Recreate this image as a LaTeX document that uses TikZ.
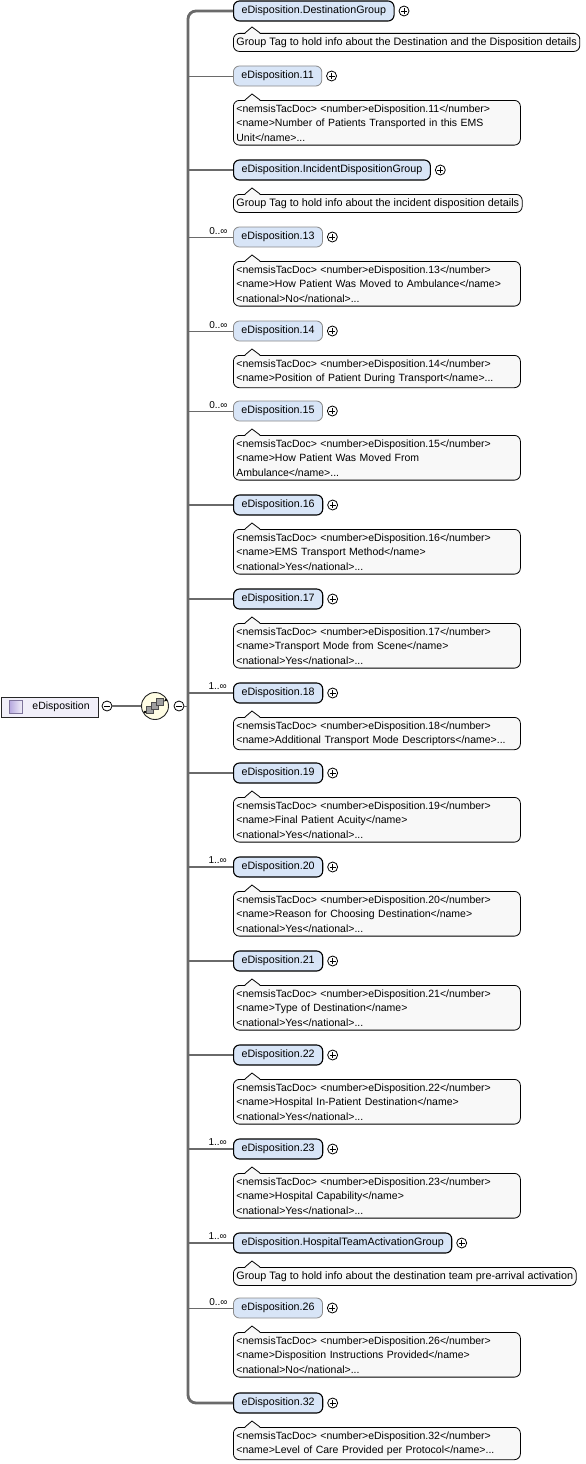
\documentclass[tikz,border=0pt]{standalone}
\usepackage{fontspec}
\setmainfont{Liberation Sans}
\usetikzlibrary{positioning}
\definecolor{elemfill}{HTML}{D8E5F7}
\definecolor{annofill}{HTML}{F8F8F8}
\definecolor{rootfill}{HTML}{F1EFF9}
\definecolor{seqfill}{HTML}{FFFDE4}
\definecolor{linkgray}{HTML}{6A6A6A}
\definecolor{optborder}{HTML}{8A8A8A}
\definecolor{iconlilac}{HTML}{B4A6DE}
\tikzset{
  docpointer/.pic={
    \fill[annofill] (12,0.9) -- (19,-6) -- (27,0.9) -- cycle;
    \draw[black, line width=0.8pt] (12,0) -- (19,-6) -- (27,0);
  }
}

\begin{document}
\begin{tikzpicture}[x=1pt, y=-1pt, font=\fontsize{10.5}{14.5}\selectfont,
    elem/.style={draw, rounded corners=6pt, fill=elemfill, anchor=west, minimum height=20pt, inner xsep=8pt, inner ysep=0pt, font=\fontsize{10.7}{14}\selectfont},
    reqelem/.style={elem, draw=black, line width=1.1pt},
    optelem/.style={elem, draw=optborder, line width=0.8pt},
    doc/.style={draw=black, line width=0.8pt, rounded corners=6pt, fill=annofill, anchor=north west, align=left, inner xsep=3pt, inner ysep=4pt},
    groupdoc/.style={doc, font=\fontsize{10.8}{14.5}\selectfont},
    tacdoc/.style={doc, text width=281pt},
    reqlink/.style={draw=linkgray, line width=2.5pt},
    optlink/.style={draw=linkgray, line width=0.9pt},
    mult/.style={font=\fontsize{10}{12}\selectfont, anchor=south east, inner sep=1pt, xshift=-4pt, yshift=1pt},
    plusmark/.style={circle, draw, line width=0.8pt, minimum size=10pt, inner sep=0pt,
      path picture={\draw[line width=0.8pt] ([xshift=-3pt]path picture bounding box.center) -- ([xshift=3pt]path picture bounding box.center)
        ([yshift=-3pt]path picture bounding box.center) -- ([yshift=3pt]path picture bounding box.center);}},
    minusmark/.style={circle, draw, line width=0.8pt, minimum size=10pt, inner sep=0pt,
      path picture={\draw[line width=0.8pt] ([xshift=-3pt]path picture bounding box.center) -- ([xshift=3pt]path picture bounding box.center);}},
    rootbox/.style={draw=black!85, line width=0.9pt, fill=rootfill, anchor=west, minimum height=20pt, minimum width=97pt, inner xsep=9pt, inner ysep=0pt},
    seqbox/.style={circle, draw=black!85, line width=0.9pt, fill=seqfill, minimum size=27pt, inner sep=0pt}]
  \useasboundingbox (0,0) rectangle (586,1464);

  % Root element and sequence compositor
  \node[rootbox] (root) at (1,707) {\hspace*{22pt}eDisposition};
  \node[draw=iconlilac!70!black, line width=0.6pt, minimum size=13pt, inner sep=0pt,
        left color=iconlilac, right color=iconlilac!20!white] (root-icon) at (15.5,706.5) {};
  \node[minusmark] (root-m) at (107,706) {};
  \node[seqbox] (seq) at (155,706) {};
  \node[minusmark] (seq-m) at (179,706) {};
  \begin{scope}[shift={(seq.center)}]
    \draw[black!80, line width=0.8pt] (-10,6) -- (11,-6);
    \fill[black] (-10,6) circle (1.3pt) (11,-6) circle (1.3pt);
    \foreach \dx/\dy in {-5/4, 0/0, 5/-4}
      \draw[fill=gray!75, draw=black!70, line width=0.5pt] (\dx-3.5,\dy-3.5) rectangle (\dx+3.5,\dy+3.5);
  \end{scope}
  \draw[reqlink, line width=2pt] (root-m) -- (seq);
  \coordinate (b-seq) at (188,706);
  \draw[optlink] (seq-m) -- (b-seq);

  % Children: element, expand mark, documentation
  \node[reqelem] (dest) at (233,11) {eDisposition.DestinationGroup};
  \node[plusmark, right=4pt of dest] (dest-x) {};
  \node[groupdoc] (dest-doc) at (233,33) {Group Tag to hold info about the Destination and the Disposition details};
  \pic at (dest-doc.north west) {docpointer};

  \node[optelem] (e11) at (233,76) {eDisposition.11};
  \node[plusmark, right=4pt of e11] (e11-x) {};
  \node[tacdoc] (e11-doc) at (233,100) {<nemsisTacDoc> <number>eDisposition.11</number>\\<name>Number of Patients Transported in this EMS\\Unit</name>...};
  \pic at (e11-doc.north west) {docpointer};

  \node[reqelem] (inc) at (233,170) {eDisposition.IncidentDispositionGroup};
  \node[plusmark, right=4pt of inc] (inc-x) {};
  \node[groupdoc] (inc-doc) at (233,194) {Group Tag to hold info about the incident disposition details};
  \pic at (inc-doc.north west) {docpointer};

  \node[optelem] (e13) at (233,237) {eDisposition.13};
  \node[plusmark, right=4pt of e13] (e13-x) {};
  \node[tacdoc] (e13-doc) at (233,261) {<nemsisTacDoc> <number>eDisposition.13</number>\\<name>How Patient Was Moved to Ambulance</name>\\<national>No</national>...};
  \pic at (e13-doc.north west) {docpointer};

  \node[optelem] (e14) at (233,331) {eDisposition.14};
  \node[plusmark, right=4pt of e14] (e14-x) {};
  \node[tacdoc] (e14-doc) at (233,355) {<nemsisTacDoc> <number>eDisposition.14</number>\\<name>Position of Patient During Transport</name>...};
  \pic at (e14-doc.north west) {docpointer};

  \node[optelem] (e15) at (233,411) {eDisposition.15};
  \node[plusmark, right=4pt of e15] (e15-x) {};
  \node[tacdoc] (e15-doc) at (233,435) {<nemsisTacDoc> <number>eDisposition.15</number>\\<name>How Patient Was Moved From\\Ambulance</name>...};
  \pic at (e15-doc.north west) {docpointer};

  \node[reqelem] (e16) at (233,505) {eDisposition.16};
  \node[plusmark, right=4pt of e16] (e16-x) {};
  \node[tacdoc] (e16-doc) at (233,529) {<nemsisTacDoc> <number>eDisposition.16</number>\\<name>EMS Transport Method</name>\\<national>Yes</national>...};
  \pic at (e16-doc.north west) {docpointer};

  \node[reqelem] (e17) at (233,599) {eDisposition.17};
  \node[plusmark, right=4pt of e17] (e17-x) {};
  \node[tacdoc] (e17-doc) at (233,623) {<nemsisTacDoc> <number>eDisposition.17</number>\\<name>Transport Mode from Scene</name>\\<national>Yes</national>...};
  \pic at (e17-doc.north west) {docpointer};

  \node[reqelem] (e18) at (233,693) {eDisposition.18};
  \node[plusmark, right=4pt of e18] (e18-x) {};
  \node[tacdoc] (e18-doc) at (233,717) {<nemsisTacDoc> <number>eDisposition.18</number>\\<name>Additional Transport Mode Descriptors</name>...};
  \pic at (e18-doc.north west) {docpointer};

  \node[reqelem] (e19) at (233,773) {eDisposition.19};
  \node[plusmark, right=4pt of e19] (e19-x) {};
  \node[tacdoc] (e19-doc) at (233,797) {<nemsisTacDoc> <number>eDisposition.19</number>\\<name>Final Patient Acuity</name>\\<national>Yes</national>...};
  \pic at (e19-doc.north west) {docpointer};

  \node[reqelem] (e20) at (233,867) {eDisposition.20};
  \node[plusmark, right=4pt of e20] (e20-x) {};
  \node[tacdoc] (e20-doc) at (233,891) {<nemsisTacDoc> <number>eDisposition.20</number>\\<name>Reason for Choosing Destination</name>\\<national>Yes</national>...};
  \pic at (e20-doc.north west) {docpointer};

  \node[reqelem] (e21) at (233,961) {eDisposition.21};
  \node[plusmark, right=4pt of e21] (e21-x) {};
  \node[tacdoc] (e21-doc) at (233,985) {<nemsisTacDoc> <number>eDisposition.21</number>\\<name>Type of Destination</name>\\<national>Yes</national>...};
  \pic at (e21-doc.north west) {docpointer};

  \node[reqelem] (e22) at (233,1055) {eDisposition.22};
  \node[plusmark, right=4pt of e22] (e22-x) {};
  \node[tacdoc] (e22-doc) at (233,1079) {<nemsisTacDoc> <number>eDisposition.22</number>\\<name>Hospital In-Patient Destination</name>\\<national>Yes</national>...};
  \pic at (e22-doc.north west) {docpointer};

  \node[reqelem] (e23) at (233,1149) {eDisposition.23};
  \node[plusmark, right=4pt of e23] (e23-x) {};
  \node[tacdoc] (e23-doc) at (233,1173) {<nemsisTacDoc> <number>eDisposition.23</number>\\<name>Hospital Capability</name>\\<national>Yes</national>...};
  \pic at (e23-doc.north west) {docpointer};

  \node[reqelem] (hosp) at (233,1243) {eDisposition.HospitalTeamActivationGroup};
  \node[plusmark, right=4pt of hosp] (hosp-x) {};
  \node[groupdoc] (hosp-doc) at (233,1267) {Group Tag to hold info about the destination team pre-arrival activation};
  \pic at (hosp-doc.north west) {docpointer};

  \node[optelem] (e26) at (233,1308) {eDisposition.26};
  \node[plusmark, right=4pt of e26] (e26-x) {};
  \node[tacdoc] (e26-doc) at (233,1332) {<nemsisTacDoc> <number>eDisposition.26</number>\\<name>Disposition Instructions Provided</name>\\<national>No</national>...};
  \pic at (e26-doc.north west) {docpointer};

  \node[reqelem] (e32) at (233,1403) {eDisposition.32};
  \node[plusmark, right=4pt of e32] (e32-x) {};
  \node[tacdoc] (e32-doc) at (233,1427) {<nemsisTacDoc> <number>eDisposition.32</number>\\<name>Level of Care Provided per Protocol</name>...};
  \pic at (e32-doc.north west) {docpointer};

  % Sequence bus with rounded ends
  \coordinate (b-top) at (188,11);
  \coordinate (b-bot) at (188,1403);
  \draw[reqlink, line width=2.8pt, rounded corners=8pt] (dest) -- (b-top) -- (b-bot) -- (e32);

  % Branches from the bus
  \foreach \n/\y in {e11/76, e13/237, e14/331, e15/411, e26/1308}
    \coordinate (b-\n) at (188,\y);
  \foreach \n/\y in {inc/170, e16/505, e17/599, e18/693, e19/773, e20/867, e21/961, e22/1055, e23/1149, hosp/1243}
    \coordinate (b-\n) at (188,\y);
  \draw[optlink] (b-e11) -- (e11);
  \draw[optlink] (b-e13) -- (e13) node[mult, pos=1] {0..∞};
  \draw[optlink] (b-e14) -- (e14) node[mult, pos=1] {0..∞};
  \draw[optlink] (b-e15) -- (e15) node[mult, pos=1] {0..∞};
  \draw[optlink] (b-e26) -- (e26) node[mult, pos=1] {0..∞};
  \draw[reqlink] (b-inc) -- (inc);
  \draw[reqlink] (b-e16) -- (e16);
  \draw[reqlink] (b-e17) -- (e17);
  \draw[reqlink] (b-e18) -- (e18) node[mult, pos=1] {1..∞};
  \draw[reqlink] (b-e19) -- (e19);
  \draw[reqlink] (b-e20) -- (e20) node[mult, pos=1] {1..∞};
  \draw[reqlink] (b-e21) -- (e21);
  \draw[reqlink] (b-e22) -- (e22);
  \draw[reqlink] (b-e23) -- (e23) node[mult, pos=1] {1..∞};
  \draw[reqlink] (b-hosp) -- (hosp) node[mult, pos=1] {1..∞};
\end{tikzpicture}
\end{document}
